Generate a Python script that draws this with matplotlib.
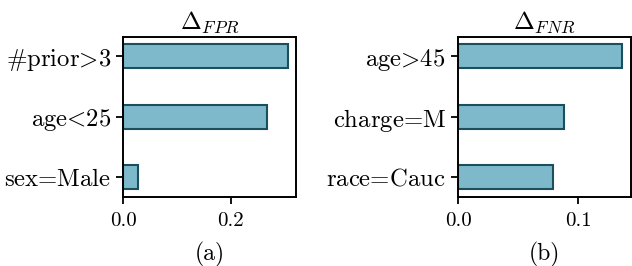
import matplotlib
matplotlib.use("Agg")
import matplotlib.pyplot as plt

plt.rcParams['font.family'] = 'serif'
plt.rcParams['font.serif'] = ['cmr10']
plt.rcParams['mathtext.fontset'] = 'cm'
plt.rcParams['axes.formatter.use_mathtext'] = True

N = r'\hspace{-0.2}'
fpr_labels = [r'sex$' + N + '=' + N + '$Male', r'age$' + N + '<' + N + '$25', r'$\#$prior$' + N + '>' + N + '$3']
fpr_values = [0.027, 0.267, 0.306]
fnr_labels = [r'race$' + N + '=' + N + '$Cauc', r'charge$' + N + '=' + N + '$M', r'age$' + N + '>' + N + '$45']
fnr_values = [0.0785, 0.088, 0.1365]

fill = '#7db9cb'
edge = '#1b4f5e'

fig = plt.figure(figsize=(6.32, 2.66), dpi=100)
ax1 = fig.add_axes([123.5/632, 1-196.7/266, (296-123.5)/632, (196.7-36.7)/266])
ax2 = fig.add_axes([458.3/632, 1-196.7/266, (630.5-458.3)/632, (196.7-36.7)/266])

for ax, labels, vals, title, xl, ticks in [
    (ax1, fpr_labels, fpr_values, r'$\Delta_{FPR}$', '(a)', [0.0, 0.2]),
    (ax2, fnr_labels, fnr_values, r'$\Delta_{FNR}$', '(b)', [0.0, 0.1]),
]:
    ax.barh(range(len(vals)), vals, height=0.4, color=fill, edgecolor=edge, linewidth=1.5)
    ax.set_yticks(range(len(vals)))
    ax.set_yticklabels(labels, fontsize=17.8)
    ax.set_xticks(ticks)
    ax.set_xticklabels(['%.1f' % t for t in ticks], fontsize=15)
    ax.set_title(title, fontsize=18, pad=6)
    ax.set_xlabel(xl, fontsize=17, labelpad=9)
    ax.tick_params(axis='x', length=5, width=1.3, pad=6)
    ax.tick_params(axis='y', length=5, width=1.3, pad=4)
    for s in ax.spines.values():
        s.set_linewidth(1.4)

fig.savefig('out.png', dpi=100)
